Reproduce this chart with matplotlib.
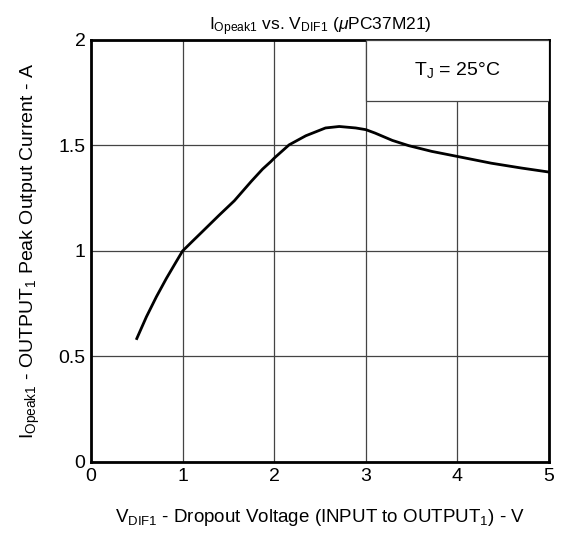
import matplotlib.pyplot as plt
from matplotlib.patches import Rectangle

plt.rcParams['font.family'] = ['Liberation Sans', 'DejaVu Sans']
plt.rcParams['mathtext.fontset'] = 'custom'
plt.rcParams['mathtext.rm'] = 'Liberation Sans'
plt.rcParams['mathtext.it'] = 'Liberation Sans:italic'

# dropout voltage (V) vs peak output current (A)
vdif = [0.5, 0.605, 0.714, 0.823, 0.93, 1.0, 1.11, 1.2, 1.4, 1.565, 1.75, 1.873,
        1.964, 2.0, 2.163, 2.345, 2.56, 2.71, 2.89, 3.0, 3.1, 3.29, 3.47, 3.72,
        4.0, 4.37, 4.7, 5.0]
ipeak = [0.585, 0.688, 0.783, 0.870, 0.949, 1.0, 1.047, 1.085, 1.17, 1.238,
         1.33, 1.388, 1.424, 1.44, 1.503, 1.546, 1.583, 1.590, 1.583, 1.575,
         1.559, 1.524, 1.499, 1.472, 1.448, 1.416, 1.393, 1.374]

xticks = [0, 1, 2, 3, 4, 5]
yticks = [0, 0.5, 1, 1.5, 2]
yticklabels = ['0', '0.5', '1', '1.5', '2']

fig = plt.figure(figsize=(5.73, 5.38), dpi=100)
ax = fig.add_axes([0.1588, 0.1413, 0.7993, 0.7844])

ax.plot(vdif, ipeak, color='black', lw=2, zorder=4, solid_joinstyle='round')

ax.set_xlim(0, 5)
ax.set_ylim(0, 2)
ax.set_xticks(xticks)
ax.set_yticks(yticks)
ax.set_yticklabels(yticklabels)
ax.tick_params(length=0, labelsize=14, pad=4)
ax.grid(True, color='#444444', lw=0.9)

for s in ax.spines.values():
    s.set_linewidth(2)

# condition box in upper right
ax.add_patch(Rectangle((3, 1.71), 2, 0.29, facecolor='white', edgecolor='#444444',
                       lw=0.9, zorder=3))
ax.text(4, 1.86, r'$\mathregular{T_J}$ = 25°C', ha='center', va='center',
        fontsize=14, zorder=5)

ax.set_title(r'$\mathregular{I_{Opeak1}}$ vs. $\mathregular{V_{DIF1}}$ ($\mu$PC37M21)',
             fontsize=12.5, pad=7)
ax.set_xlabel(r'$\mathregular{V_{DIF1}}$ - Dropout Voltage (INPUT to $\mathregular{OUTPUT_1}$) - V',
              fontsize=13.5, labelpad=16)
ax.set_ylabel(r'$\mathregular{I_{Opeak1}}$ - $\mathregular{OUTPUT_1}$ Peak Output Current - A',
              fontsize=14, labelpad=12)

fig.savefig('out.png', dpi=100)
